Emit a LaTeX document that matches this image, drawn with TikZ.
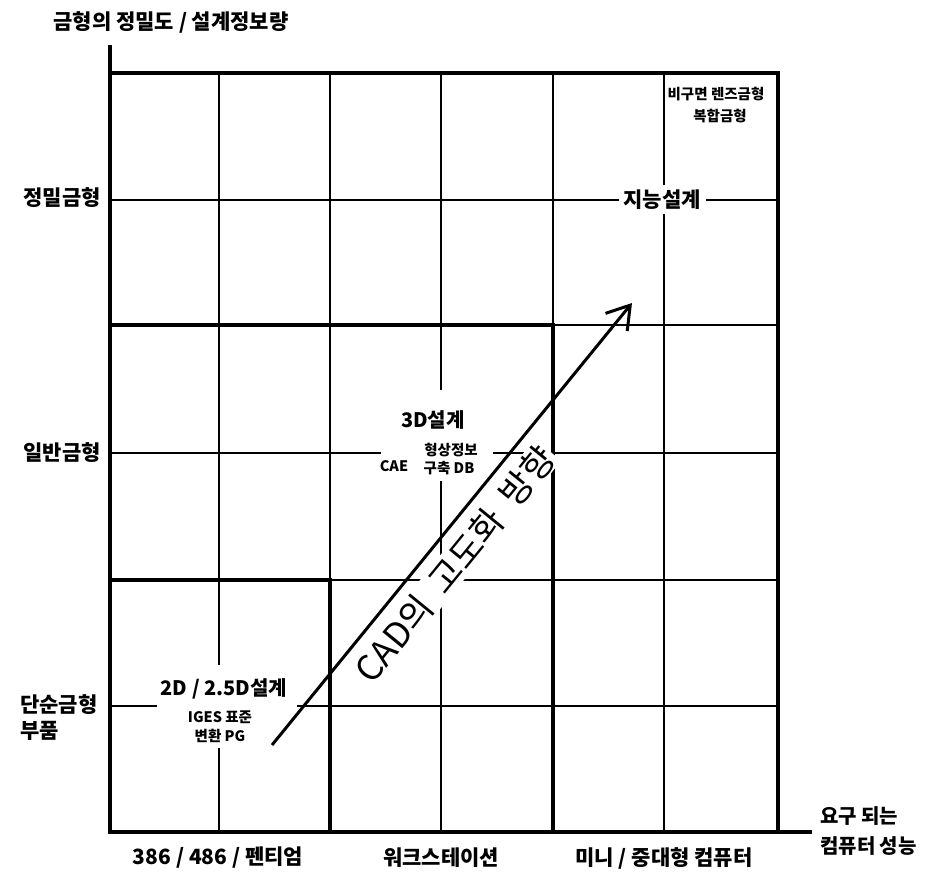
\documentclass[tikz,border=0pt]{standalone}
\usepackage{fontspec}
\setmainfont{Noto Sans CJK KR}
\usetikzlibrary{arrows.meta}
\begin{document}
\begin{tikzpicture}[x=1pt,y=-1pt,
  thinln/.style={line width=1.7pt},
  thickln/.style={line width=4.2pt},
  biglbl/.style={font=\fontsize{21}{26}\selectfont\bfseries, inner sep=0pt},
  smalllbl/.style={font=\fontsize{14.5}{16}\selectfont\bfseries, inner sep=0pt},
  knock/.style={fill=white, draw=none}]
\useasboundingbox (0,0) rectangle (931,881);
% thin grid
\foreach \x in {219,330,441,553,664} \draw[thinln] (\x,73) -- (\x,832);
\foreach \y in {200,325,453,580,706} \draw[thinln] (110,\y) -- (778,\y);
% gaps under labels
\fill[knock] (619,185) rectangle (706,214);
\fill[knock] (381,390) rectangle (493,481);
\fill[knock] (157,665) rectangle (297,748);
% thick frame and regions
\draw[thickln] (110,45) -- (110,832) -- (812,832);
\draw[thickln] (110,73) -- (778,73) -- (778,832);
\draw[thickln] (110,325) -- (553,325) -- (553,832);
\draw[thickln] (110,580) -- (330,580) -- (330,832);
% axis labels
\node[biglbl] (title) at (171,22) {금형의 정밀도 / 설계정보량};
\node[biglbl, anchor=east] (prec) at (101,198) {정밀금형};
\node[biglbl, anchor=east] (gen) at (101,453) {일반금형};
\node[biglbl, anchor=north west, align=left] (simple) at (20,694) {단순금형\\부품};
\node[biglbl] (pc) at (218,858) {386 / 486 / 펜티엄};
\node[biglbl] (ws) at (441,858) {워크스테이션};
\node[biglbl] (mini) at (664,858) {미니 / 중대형 컴퓨터};
\node[biglbl, anchor=north west, align=left, font=\fontsize{20}{30}\selectfont\bfseries] (perf) at (820,806) {요구 되는\\컴퓨터 성능};
% region labels
\node[biglbl] (intel) at (662,200) {지능설계};
\node[smalllbl] (asph) at (716,94) {비구면 렌즈금형};
\node[smalllbl] (comp) at (720,116) {복합금형};
\node[biglbl, font=\fontsize{20}{22}\selectfont\bfseries] (d3) at (433,420) {3D설계};
\node[smalllbl] (shape) at (451,450) {형상정보};
\node[smalllbl] (db) at (449,468) {구축 DB};
\node[smalllbl] (cae) at (394,466) {CAE};
\node[biglbl, font=\fontsize{20}{22}\selectfont\bfseries] (d2) at (224,689) {2D / 2.5D설계};
\node[smalllbl] (iges) at (220,717) {IGES 표준};
\node[smalllbl] (pg) at (220,736) {변환 PG};
% CAD direction arrow
\coordinate (s) at (272,745);
\coordinate (t) at (632,303);
\node[rotate=50.8, fill=white, inner sep=1pt, font=\fontsize{35}{38}\selectfont] (cad) at (455,564) {CAD의\hspace{0.45em}고도화\hspace{0.45em}방향};
\draw[line width=3pt, -{Straight Barb[length=22pt, width=28pt, line width=3pt]}] (s) -- (t);
\end{tikzpicture}
\end{document}
